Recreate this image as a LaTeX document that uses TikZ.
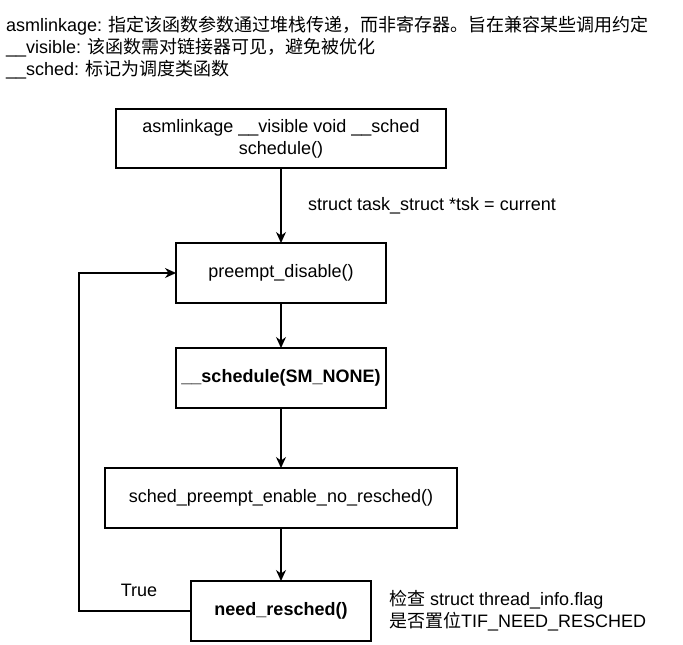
\documentclass[tikz,border=0pt]{standalone}
\usepackage{fontspec}
\setmainfont{Liberation Sans}
\newfontfamily\cjk{Noto Sans CJK SC}
\usetikzlibrary{positioning,arrows.meta}
\newcommand{\zh}[1]{{\cjk #1}}
\newcommand{\fsz}{\fontsize{18pt}{22pt}\selectfont}
\tikzset{
  block/.style={draw,line width=1.3pt,minimum height=60pt,inner sep=2pt,outer sep=0pt,align=center},
  link/.style={line width=1.3pt,-{Stealth[length=11pt,width=10pt]}},
  note/.style={inner sep=0pt,align=left,anchor=west}
}
\begin{document}
\begin{tikzpicture}[x=1pt,y=-1pt,font=\fsz]
\useasboundingbox (0,0) rectangle (683,645);
% header notes
\node [note] (hdr) at (6,48) {asmlinkage: \zh{指定该函数参数通过堆栈传递，而非寄存器。旨在兼容某些调用约定}\\
  \_\_visible: \zh{该函数需对链接器可见，避免被优化}\\
  \_\_sched: \zh{标记为调度类函数}};
% flow boxes
\node [block,minimum width=330pt,minimum height=59pt] (sched) at (281,138.5) {asmlinkage \_\_visible void \_\_sched\\schedule()};
\node [block,minimum width=210pt,below=75pt of sched] (pdis) {preempt\_disable()};
\node [block,minimum width=210pt,below=45pt of pdis] (core) {\textbf{\_\_schedule(SM\_NONE)}};
\node [block,minimum width=352pt,below=60pt of core] (penb) {sched\_preempt\_enable\_no\_resched()};
\node [block,minimum width=180pt,below=53pt of penb] (need) {\textbf{need\_resched()}};
% labels
\node [note] (tsk) at (308,206) {struct task\_struct *tsk = current};
\node (tru) at (139,590) {True};
\node [note] (chk) at (389,611) {\zh{检查} struct thread\_info.flag\\\zh{是否置位}TIF\_NEED\_RESCHED};
% connectors
\draw [link] (sched) -- (pdis);
\draw [link] (pdis) -- (core);
\draw [link] (core) -- (penb);
\draw [link] (penb) -- (need);
\draw [link] (need.west) -- ++(-112,0) |- (pdis.west);
\end{tikzpicture}
\end{document}
